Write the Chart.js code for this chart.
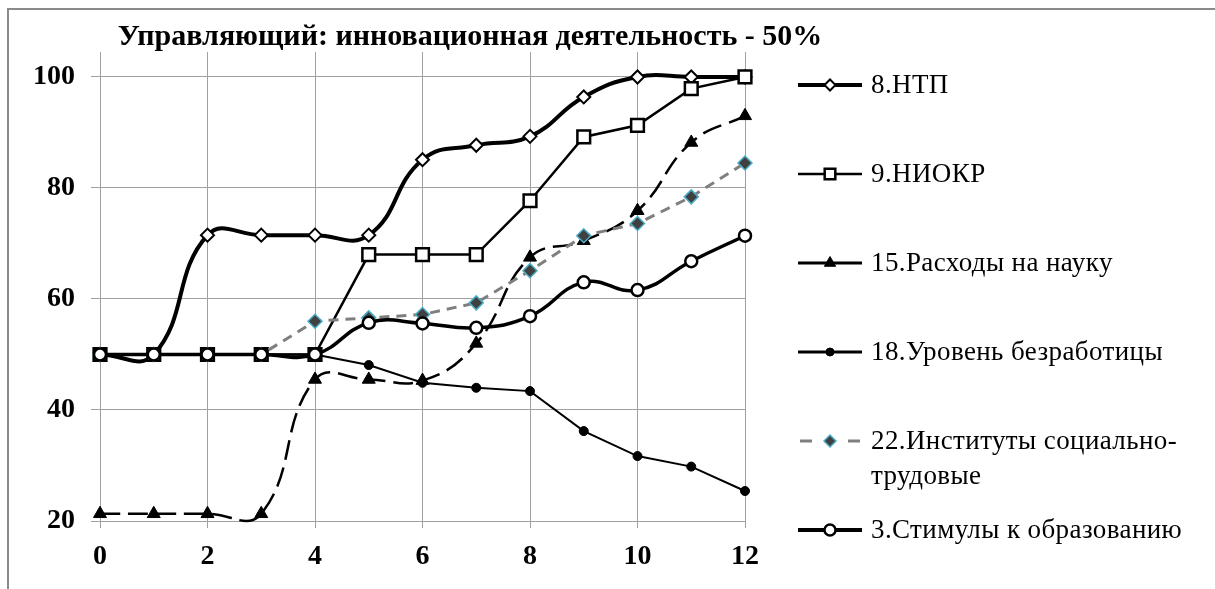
<!DOCTYPE html>
<html>
<head>
<meta charset="utf-8">
<script src="https://cdn.jsdelivr.net/npm/chart.js@4.4.1/dist/chart.umd.min.js"></script>
<style>
html,body{margin:0;padding:0;background:#fff;}
canvas{display:block;}
</style>
</head>
<body>
<canvas id="c" width="1215" height="589"></canvas>
<script>
const titleText = 'Управляющий: инновационная деятельность - 50%';
const xValues = [0,1,2,3,4,5,6,7,8,9,10,11,12];
const xTicks = [0,2,4,6,8,10,12];
const yTicks = [20,40,60,80,100];
const seriesNames = [
  '8.НТП',
  '9.НИОКР',
  '15.Расходы на науку',
  '18.Уровень безработицы',
  ['22.Институты социально-', 'трудовые'],
  '3.Стимулы к образованию'
];
const ntp       = [50,50,71.5,71.5,71.5,71.5,85.1,87.7,89.3,96.4,100,100,100];
const niokr     = [50,50,50,50,50,68,68,68,77.7,89.2,91.3,97.9,100];
const rashody   = [21.3,21.3,21.3,21.3,45.5,45.5,45.3,52,67.5,70.5,75.9,88.2,93];
const bezrab    = [50,50,50,50,50,48.1,44.9,44.0,43.4,36.2,31.7,29.8,25.4];
const instituty = [50,50,50,50,56.0,56.6,57.2,59.3,65.1,71.4,73.6,78.4,84.5];
const stimuly   = [50,50,50,50,50,55.7,55.6,54.8,56.9,63.0,61.6,66.8,71.4];

function pts(arr){ return arr.map((v,i)=>({x:xValues[i], y:v})); }

const styles = [
  {color:'#000', width:4,   dash:[],     tension:0.45, point:'rectRot', r:6.5, fill:'#fff', pb:'#000', pbw:2,   lw:4,   lr:5.5},
  {color:'#000', width:2.5, dash:[],     tension:0,    point:'rect',    r:9,   fill:'#fff', pb:'#000', pbw:2.5, lw:2.5, lr:7.5},
  {color:'#000', width:2.5, dash:[20,8], tension:0.45, point:'triangle',r:7.5, fill:'#000', pb:'#000', pbw:1,   lw:3,   lr:6.5},
  {color:'#000', width:2,   dash:[],     tension:0,    point:'circle',  r:4.5, fill:'#000', pb:'#000', pbw:1,   lw:3,   lr:4},
  {color:'#7f7f7f', width:3, dash:[10,7], tension:0,   point:'rectRot', r:7,   fill:'#404040', pb:'#4bacc6', pbw:1.5, lw:3, lr:6},
  {color:'#000', width:3.5, dash:[],     tension:0.45, point:'circle',  r:6,   fill:'#fff', pb:'#000', pbw:2.5, lw:4,   lr:5.5}
];
const seriesData = [ntp, niokr, rashody, bezrab, instituty, stimuly];

const datasets = seriesData.map((arr,i)=>{
  const s = styles[i];
  return {
    label: Array.isArray(seriesNames[i]) ? seriesNames[i].join(' ') : seriesNames[i],
    data: pts(arr),
    borderColor: s.color,
    borderWidth: s.width,
    borderDash: s.dash,
    tension: s.tension,
    pointStyle: s.point,
    pointRadius: s.r,
    pointBackgroundColor: s.fill,
    pointBorderColor: s.pb,
    pointBorderWidth: s.pbw,
    order: 5 - i,
    clip: false,
    fill: false
  };
});

const serif = "'Liberation Serif','Times New Roman',serif";

function drawMarker(ctx, style, x, y, r){
  ctx.save();
  ctx.setLineDash([]);
  ctx.fillStyle = style.fill;
  ctx.strokeStyle = style.pb;
  ctx.lineWidth = style.pbw;
  ctx.beginPath();
  if (style.point === 'rectRot'){
    ctx.moveTo(x - r, y); ctx.lineTo(x, y - r); ctx.lineTo(x + r, y); ctx.lineTo(x, y + r); ctx.closePath();
  } else if (style.point === 'rect'){
    const s = r * Math.SQRT1_2;
    ctx.rect(x - s, y - s, 2*s, 2*s);
  } else if (style.point === 'triangle'){
    const h = r;
    ctx.moveTo(x, y - h); ctx.lineTo(x + h*Math.sin(Math.PI/3), y + h*0.5); ctx.lineTo(x - h*Math.sin(Math.PI/3), y + h*0.5); ctx.closePath();
  } else {
    ctx.arc(x, y, r, 0, Math.PI*2);
  }
  ctx.fill();
  ctx.stroke();
  ctx.restore();
}

const decorPlugin = {
  id: 'decor',
  beforeDraw(chart){
    const ctx = chart.ctx;
    ctx.save();
    ctx.fillStyle = '#fff';
    ctx.fillRect(0,0,chart.width,chart.height);
    ctx.strokeStyle = '#8a8a8a';
    ctx.lineWidth = 2;
    ctx.strokeRect(8, 9, chart.width + 50, chart.height + 50);
    ctx.restore();
  },
  afterDraw(chart){
    const ctx = chart.ctx;
    ctx.save();
    // title
    ctx.fillStyle = '#000';
    ctx.font = 'bold 30px ' + serif;
    ctx.textAlign = 'center';
    ctx.textBaseline = 'alphabetic';
    ctx.fillText(titleText, 470, 45);
    // legend
    const x0 = 798, x1 = 862, tx = 871;
    const y0 = 85, step = 89, lineH = 35;
    ctx.font = '27px ' + serif;
    try { ctx.letterSpacing = '0.4px'; } catch(e) {}
    ctx.textAlign = 'left';
    ctx.textBaseline = 'middle';
    seriesNames.forEach((name,i)=>{
      const s = styles[i];
      const y = y0 + step*i;
      ctx.save();
      ctx.strokeStyle = s.color;
      ctx.lineWidth = s.lw;
      ctx.setLineDash([]);
      if (i === 4) {
        ctx.beginPath(); ctx.moveTo(x0+2, y); ctx.lineTo(x0+14, y); ctx.stroke();
        ctx.beginPath(); ctx.moveTo(x1-14, y); ctx.lineTo(x1-2, y); ctx.stroke();
      } else {
        ctx.beginPath(); ctx.moveTo(x0, y); ctx.lineTo(x1, y); ctx.stroke();
      }
      ctx.restore();
      drawMarker(ctx, s, (x0+x1)/2, y, s.lr);
      ctx.fillStyle = '#000';
      const lines = Array.isArray(name) ? name : [name];
      lines.forEach((ln,k)=> ctx.fillText(ln, tx, y + 1 + k*lineH));
    });
    ctx.restore();
  }
};

new Chart(document.getElementById('c'), {
  type: 'line',
  data: { datasets },
  options: {
    responsive: false,
    animation: false,
    devicePixelRatio: 1,
    layout: { padding: { left: 0, top: 52, right: 470, bottom: 0 } },
    elements: { line: { capBezierPoints: false } },
    plugins: { legend: { display: false }, title: { display: false }, tooltip: { enabled: false } },
    scales: {
      x: {
        type: 'linear',
        min: 0, max: 12,
        afterFit(scale){ scale.height = 68; },
        afterBuildTicks(scale){ scale.ticks = xTicks.map(v=>({value:v})); },
        grid: { color: '#a0a0a0', lineWidth: 1, tickLength: 7, drawTicks: true },
        border: { color: '#a0a0a0', width: 1 },
        ticks: { color: '#000', font: { family: serif, size: 28, weight: 'bold' }, padding: 12, maxRotation: 0 }
      },
      y: {
        type: 'linear',
        min: 20, max: 104.5,
        afterFit(scale){ scale.width = 100; },
        afterBuildTicks(scale){ scale.ticks = yTicks.map(v=>({value:v})); },
        grid: { color: '#a0a0a0', lineWidth: 1, tickLength: 9, drawTicks: true },
        border: { color: '#a0a0a0', width: 1 },
        ticks: { color: '#000', font: { family: serif, size: 28, weight: 'bold' }, padding: 16 }
      }
    }
  },
  plugins: [decorPlugin]
});
</script>
</body>
</html>
